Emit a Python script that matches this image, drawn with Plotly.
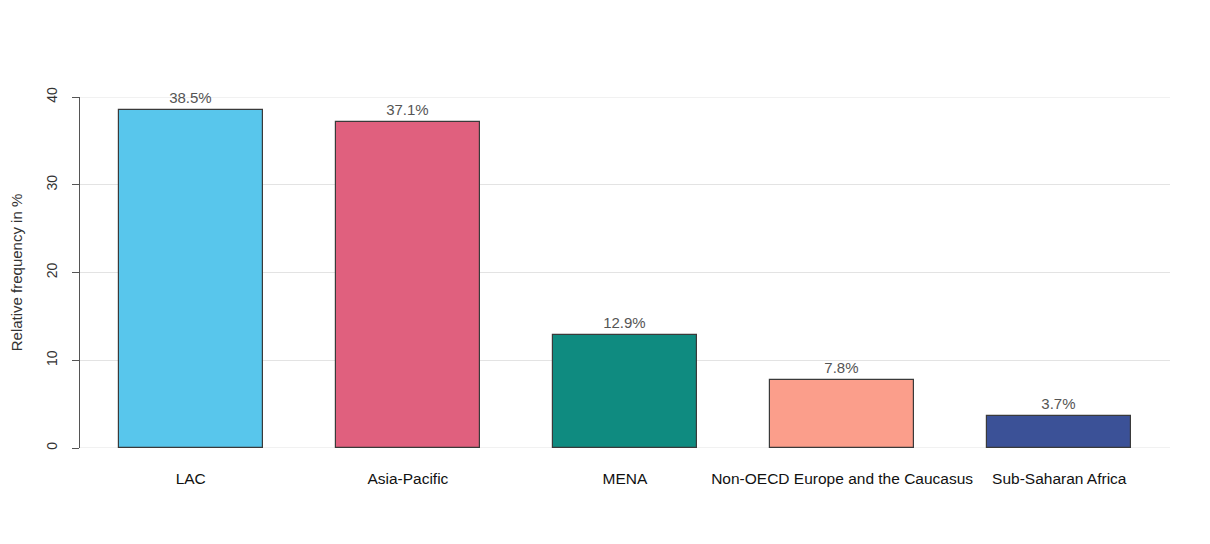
import plotly.graph_objects as go

regions = ["LAC", "Asia-Pacific", "MENA", "Non-OECD Europe and the Caucasus", "Sub-Saharan Africa"]
share = [38.5, 37.1, 12.9, 7.8, 3.7]
colors = ["#58C6EC", "#E0607E", "#0F8B80", "#FB9E8B", "#3B5197"]
y_ticks = [0, 10, 20, 30, 40]

fig = go.Figure()
fig.add_trace(
    go.Bar(
        x=list(range(len(regions))),
        y=share,
        width=0.664,
        marker=dict(color=colors, line=dict(color="#3a3a3a", width=1.2)),
        text=[f"{v}%" for v in share],
        textposition="outside",
        textfont=dict(color="#555555", size=15),
        cliponaxis=False,
        hoverinfo="skip",
    )
)

# page body has an 8px margin, so the margins are shifted by that much
fig.update_layout(
    width=1210,
    height=544,
    margin=dict(l=72, r=48, t=89, b=104, autoexpand=False),
    paper_bgcolor="white",
    plot_bgcolor="white",
    font=dict(family="Liberation Sans, Arial, sans-serif", color="#222222"),
    showlegend=False,
    bargap=0,
)

fig.update_xaxes(
    range=[-0.51, 4.51],
    tickmode="array",
    tickvals=list(range(len(regions))),
    ticktext=regions,
    tickfont=dict(size=15.5, color="#111111"),
    showgrid=False,
    zeroline=False,
    showline=False,
    ticks="",
    ticklabelstandoff=19,
)

fig.update_yaxes(
    range=[0, 40],
    tickvals=y_ticks,
    tickangle=-90,
    tickfont=dict(size=14, color="#333333"),
    showgrid=True,
    gridcolor="#e3e3e3",
    gridwidth=1,
    zeroline=False,
    showline=True,
    linecolor="#555555",
    linewidth=1,
    ticks="outside",
    ticklen=7,
    tickcolor="#555555",
    ticklabelstandoff=9,
    title=dict(text="Relative frequency in %", font=dict(size=15, color="#333333"), standoff=22),
)

# grid lines at the ends of the axis (plotly drops them at the range edges)
for v in (y_ticks[0], y_ticks[-1]):
    fig.add_shape(type="line", xref="paper", yref="y", x0=0, x1=1, y0=v, y1=v,
                  line=dict(color="#e3e3e3", width=1), layer="below")

fig.write_html("out.html")
